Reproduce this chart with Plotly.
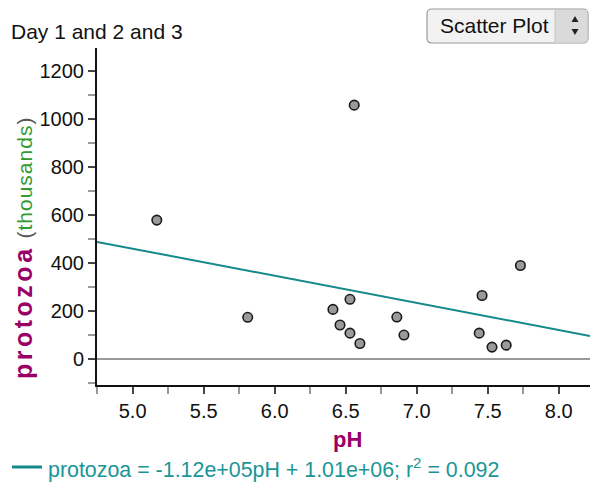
import plotly.graph_objects as go

# ---- data ----
ph_values = [5.17, 5.81, 6.41, 6.53, 6.46, 6.53, 6.60, 6.86, 6.91, 7.46, 7.44, 7.53, 7.63, 7.73, 6.56]
protozoa_values = [579, 174, 207, 249, 142, 108, 65, 175, 100, 265, 108, 50, 58, 390, 1058]
fit_slope = -113.0      # thousands per pH unit (as drawn)
fit_intercept = 1025.0  # thousands
x_range = [4.749, 8.22]
y_range = [-108, 1296]
fit_label = "protozoa = -1.12e+05pH + 1.01e+06; r<sup>2</sup> = 0.092"
chart_title = "Day 1 and 2 and 3"
menu_label = "Scatter Plot"

W, H = 590, 485
L, R, T, B = 97, 0, 48, 100
PW, PH = W - L - R, H - T - B


def px(x):
    return (x - L) / PW


def py(y):
    return (H - B - y) / PH


FONT = "Arial, Liberation Sans, sans-serif"
PURPLE = "#990066"
GREEN = "#339933"
TEAL = "#14898a"
TEAL_TXT = "#1a9696"

fit_x = x_range
fit_y = [fit_slope * v + fit_intercept for v in fit_x]

fig = go.Figure()
fig.add_trace(go.Scatter(
    x=fit_x, y=fit_y, mode="lines",
    line=dict(color=TEAL, width=2),
    name="fit", showlegend=False, hoverinfo="skip"))
fig.add_trace(go.Scatter(
    x=ph_values, y=protozoa_values, mode="markers",
    marker=dict(size=9.5, color="#9a9a9a", line=dict(color="#1a1a1a", width=1.6)),
    showlegend=False))

fig.update_xaxes(
    range=x_range, showgrid=False, zeroline=False,
    showline=True, linecolor="#111", linewidth=2,
    ticks="outside", ticklen=7, tickwidth=1.5, tickcolor="#444",
    tick0=5.0, dtick=0.5, tickformat=".1f",
    tickfont=dict(family=FONT, size=20, color="#111"),
    minor=dict(ticks="outside", ticklen=7, tickwidth=1.5, tickcolor="#999", tick0=4.75, dtick=0.25),
)
fig.update_yaxes(
    range=y_range, showgrid=False,
    zeroline=True, zerolinecolor="#9a9a9a", zerolinewidth=2,
    showline=True, linecolor="#111", linewidth=2,
    ticks="outside", ticklen=7, tickwidth=1.5, tickcolor="#444",
    tick0=0, dtick=200,
    tickfont=dict(family=FONT, size=20, color="#111"),
    minor=dict(ticks="outside", ticklen=7, tickwidth=1.5, tickcolor="#999", tick0=0, dtick=100),
)

annotations = [
    dict(text=chart_title, xref="paper", yref="paper", x=px(9), y=py(32),
         xanchor="left", yanchor="middle", showarrow=False,
         font=dict(family=FONT, size=21, color="#111")),
    dict(text="<b>pH</b>", xref="paper", yref="paper", x=px(347), y=py(439),
         xanchor="center", yanchor="middle", showarrow=False,
         font=dict(family=FONT, size=22, color=PURPLE)),
    dict(text=("<b><span style='letter-spacing:3.5px'>protozoa</span></b> "
               "<span style='font-size:21px;letter-spacing:1px'>"
               "<span style='color:#555'>(</span><span style='color:%s'>thousands</span>"
               "<span style='color:#555'>)</span></span>") % GREEN,
         xref="paper", yref="paper", x=px(23), y=py(248), textangle=-90,
         xanchor="center", yanchor="middle", showarrow=False,
         font=dict(family=FONT, size=25, color=PURPLE)),
    dict(text=menu_label, xref="paper", yref="paper", x=px(494), y=py(26),
         xanchor="center", yanchor="middle", showarrow=False,
         font=dict(family=FONT, size=21, color="#111")),
    dict(text=fit_label, xref="paper", yref="paper", x=px(46), y=py(468),
         xanchor="left", yanchor="middle", showarrow=False,
         font=dict(family=FONT, size=21.4, color=TEAL_TXT)),
]


def rrect(x0, y0, x1, y1, r):
    a0, a1 = px(x0), px(x1)
    b0, b1 = py(y0), py(y1)
    rx, ry = r / PW, r / PH
    return (f"M {a0+rx},{b0} L {a1-rx},{b0} Q {a1},{b0} {a1},{b0-ry} "
            f"L {a1},{b1+ry} Q {a1},{b1} {a1-rx},{b1} L {a0+rx},{b1} "
            f"Q {a0},{b1} {a0},{b1+ry} L {a0},{b0-ry} Q {a0},{b0} {a0+rx},{b0} Z")


shapes = [
    dict(type="path", xref="paper", yref="paper", path=rrect(427, 9, 588, 43, 5),
         fillcolor="#f2f2f2", line=dict(color="#9a9a9a", width=1.2), layer="above"),
    dict(type="rect", xref="paper", yref="paper", x0=px(555), x1=px(587.4), y0=py(10), y1=py(42.4),
         fillcolor="#dadada", line=dict(width=0), layer="above"),
    dict(type="line", xref="paper", yref="paper", x0=px(555), x1=px(555), y0=py(10), y1=py(42),
         line=dict(color="#c4c4c4", width=1), layer="above"),
    dict(type="path", xref="paper", yref="paper",
         path=f"M {px(571.5)},{py(22)} L {px(578.5)},{py(22)} L {px(575)},{py(16)} Z",
         fillcolor="#222", line=dict(width=0), layer="above"),
    dict(type="path", xref="paper", yref="paper",
         path=f"M {px(571.5)},{py(29)} L {px(578.5)},{py(29)} L {px(575)},{py(35)} Z",
         fillcolor="#222", line=dict(width=0), layer="above"),
    # legend line sample for the fit
    dict(type="line", xref="paper", yref="paper", x0=px(12), x1=px(42), y0=py(467), y1=py(467),
         line=dict(color=TEAL, width=3), layer="above"),
]

fig.update_layout(
    width=W, height=H,
    margin=dict(l=L, r=R, t=T, b=B, pad=0),
    paper_bgcolor="white", plot_bgcolor="white",
    font=dict(family=FONT),
    showlegend=False,
    annotations=annotations,
    shapes=shapes,
)

fig.write_html("out.html")
